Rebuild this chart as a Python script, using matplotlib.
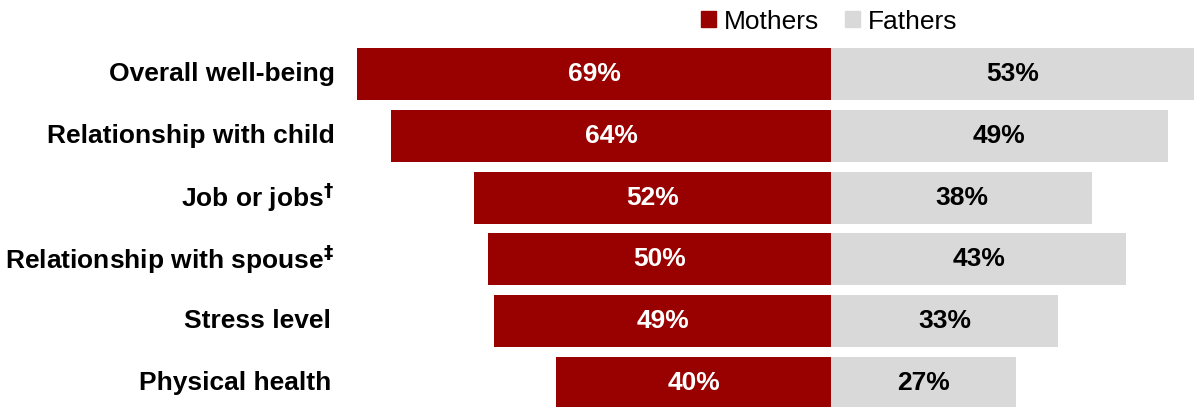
import matplotlib.pyplot as plt
from matplotlib.patches import Patch

plt.rcParams['font.family'] = ['Liberation Sans', 'DejaVu Sans']

categorias = ['Overall well-being', 'Relationship with child', 'Job or jobs$^{\\mathbf{\u2020}}$',
              'Relationship with spouse$^{\\mathbf{\u2021}}$', 'Stress level', 'Physical health']
madres = [69, 64, 52, 50, 49, 40]
padres = [53, 49, 38, 43, 33, 27]

rojo = '#990000'
gris = '#d9d9d9'

W, H = 1194, 407
escala = 6.87      # px por punto porcentual
centro = 831       # px del eje central
paso = 61.8        # px entre filas
y0 = 74            # centro de la primera fila

fig = plt.figure(figsize=(W / 100, H / 100), dpi=100)
ax = fig.add_axes([0, 0, 1, 1])
ax.set_xlim(-centro / escala, (W - centro) / escala)
ax.set_ylim((H - y0) / paso, -y0 / paso)
ax.axis('off')

filas = range(len(categorias))
ax.barh(filas, [-m for m in madres], height=52 / paso, color=rojo)
ax.barh(filas, padres, height=52 / paso, color=gris)

# borde derecho de cada etiqueta, en px
bordes = [335, 335, 334, 334, 331, 331]
for i, (cat, m, p) in enumerate(zip(categorias, madres, padres)):
    ax.text((bordes[i] - centro) / escala, i, cat, ha='right', va='center',
            fontsize=19, fontweight='bold')
    ax.text(-m / 2, i, f'{m}%', ha='center', va='center', fontsize=19,
            fontweight='bold', color='white')
    ax.text(p / 2, i, f'{p}%', ha='center', va='center', fontsize=19,
            fontweight='bold', color='black')

leyenda = [Patch(color=rojo, label='Mothers'), Patch(color=gris, label='Fathers')]
fig.legend(handles=leyenda, loc='upper center', bbox_to_anchor=(829 / W, 1.035), ncol=2,
           frameon=False, fontsize=19, handlelength=0.55, handleheight=0.55,
           handletextpad=0.3, columnspacing=1.0)

fig.savefig('out.png', dpi=100)
